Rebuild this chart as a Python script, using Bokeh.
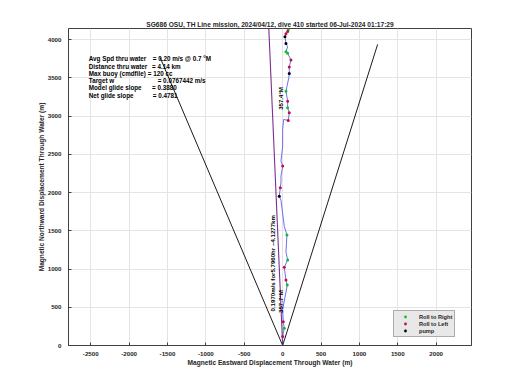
import math
from bokeh.plotting import figure
from bokeh.models import (Range1d, SingleIntervalTicker, PrintfTickFormatter, Label)
from bokeh.embed import file_html
from bokeh.resources import INLINE

# ---------------- data ----------------
title_text = "SG686 OSU, TH Line mission, 2024/04/12, dive 410 started 06-Jul-2024 01:17:29"
x_label = "Magnetic Eastward Displacement Through Water (m)"
y_label = "Magnetic Northward Displacement Through Water (m)"

trace_x = [0, 0, 21, 8, 0, 60, 43, 21, 65, 43, 56, 21, 0, -22, -44, -31, -22, -22,
           0, -22, 0, 0, 13, 73, 86, 65, 65, 43, 80, 86, 86, 108, 65, 43, 65, 43,
           30, 43, 65, 73]
trace_y = [0, 117, 227, 312, 470, 790, 855, 1023, 1118, 1226, 1444, 1558, 1728,
           1898, 1950, 2063, 2140, 2215, 2346, 2411, 2607, 2825, 2956, 2943, 3043,
           3108, 3195, 3326, 3500, 3555, 3642, 3733, 3820, 3842, 3907, 3950, 4038,
           4075, 4105, 4125]

right_x = [21, 60, 65, 56, 65, 43, 65, 43, 73]
right_y = [227, 790, 1118, 1444, 3108, 3326, 3820, 3842, 4125]

left_x = [0, 8, 43, 21, -31, 0, 73, 86, 65, 86, 108, 43, 65]
left_y = [117, 312, 855, 1023, 2063, 2346, 2943, 3043, 3195, 3642, 3733, 4075, 4105]

pump_x = [-44, 86, 43, 30]
pump_y = [1950, 3555, 3950, 4038]

glide_left_x = [0, -1598]
glide_left_y = [0, 3769]
glide_right_x = [0, 1237]
glide_right_y = [0, 3937]

heading_x = [0, -183]
heading_y = [0, 4200]

info_names = ["Avg Spd thru water", "Distance thru water", "Max buoy (cmdfile)",
              "Target w", "Model glide slope", "Net glide slope"]
info_values = ["=  0.20 m/s @   0.7 \u00b0M", "= 4.14 km", "= 120 cc",
               "= 0.0767442 m/s", "= 0.3880", "= 0.4781"]

heading_top_label = "357.4\u00b0M"
heading_bottom_label = "357.7\u00b0M"
summary_label = "0.1970m/s for5.7960hr ~4.1277km"

# ---------------- figure ----------------
FONT = "Liberation Sans"
TXT = "#262626"

p = figure(width=504, height=374, output_backend="svg", toolbar_location=None,
           x_range=Range1d(-2790, 2460), y_range=Range1d(0, 4145),
           min_border_left=68, min_border_right=33, min_border_top=28,
           min_border_bottom=29)

p.title.text = title_text
p.title.align = "center"
p.title.text_font = FONT
p.title.text_font_size = "6.6px"
p.title.text_font_style = "bold"
p.title.text_color = TXT
p.title.standoff = 1
p.title.offset = 0

p.outline_line_color = "#404040"
p.outline_line_width = 1

for ax, lab in ((p.xaxis[0], x_label), (p.yaxis[0], y_label)):
    ax.axis_label = lab
    ax.axis_label_text_font = FONT
    ax.axis_label_text_font_size = "6.6px"
    ax.axis_label_text_font_style = "bold"
    ax.axis_label_text_color = TXT
    ax.major_label_text_font = FONT
    ax.major_label_text_font_size = "6.2px"
    ax.major_label_text_font_style = "bold"
    ax.major_label_text_color = TXT
    ax.major_tick_in = 3
    ax.major_tick_out = 0
    ax.minor_tick_line_color = None
    ax.axis_line_color = "#404040"
    ax.major_tick_line_color = "#404040"
    ax.ticker = SingleIntervalTicker(interval=500)
    ax.formatter = PrintfTickFormatter(format="%d")

p.xaxis[0].major_label_standoff = 2
p.xaxis[0].axis_label_standoff = 0
p.yaxis[0].major_label_standoff = 3
p.yaxis[0].axis_label_standoff = 0

p.xgrid.ticker = SingleIntervalTicker(interval=500)
p.ygrid.ticker = SingleIntervalTicker(interval=500)
p.xgrid.grid_line_color = "#e4e4e4"
p.ygrid.grid_line_color = "#e4e4e4"

# glide lines
p.line(glide_left_x, glide_left_y, line_color="black", line_width=0.9)
p.line(glide_right_x, glide_right_y, line_color="black", line_width=0.9)
# heading line
p.line(heading_x, heading_y, line_color="#7e2f8e", line_width=1.1)
# trace
p.line(trace_x, trace_y, line_color="#4a4af0", line_width=0.8)

p.scatter(right_x, right_y, size=3, fill_color="#10c020", line_color=None,
          legend_label="Roll to Right")
p.scatter(left_x, left_y, size=3, fill_color="#c01040", line_color=None,
          legend_label="Roll to Left")
p.scatter(pump_x, pump_y, size=3, fill_color="black", line_color=None,
          legend_label="pump")

leg = p.legend[0]
leg.location = (325, 8)
leg.label_text_font = FONT
leg.label_text_font_size = "5.6px"
leg.label_text_font_style = "bold"
leg.label_text_color = TXT
leg.label_height = 7
leg.glyph_height = 7
leg.glyph_width = 18
leg.label_standoff = 5
leg.spacing = 0
leg.padding = 2
leg.margin = 0
leg.background_fill_color = "#e8e8e8"
leg.background_fill_alpha = 1
leg.border_line_color = "#707070"
leg.border_line_width = 1

# info box
info_y = [3751, 3654, 3559, 3468, 3373, 3272]
value_x = [-1693, -1702, -1758, -1628, -1702, -1693]
for name, val, yy, vx in zip(info_names, info_values, info_y, value_x):
    p.add_layout(Label(x=-2526, y=yy, text=name, text_font=FONT,
                       text_font_size="6.3px", text_font_style="bold",
                       text_color="black", text_baseline="middle"))
    p.add_layout(Label(x=vx, y=yy, text=val, text_font=FONT,
                       text_font_size="6.3px", text_font_style="bold",
                       text_color="black", text_baseline="middle"))

# rotated annotations
for txt, xx, yy in ((heading_top_label, -22, 3230),
                    (summary_label, -135, 1075),
                    (heading_bottom_label, -25, 574)):
    p.add_layout(Label(x=xx, y=yy, text=txt, angle=math.pi / 2,
                       text_font=FONT, text_font_size="6.1px",
                       text_font_style="bold", text_color="black",
                       text_align="center", text_baseline="middle"))

open("out.html", "w").write(file_html(p, INLINE))
